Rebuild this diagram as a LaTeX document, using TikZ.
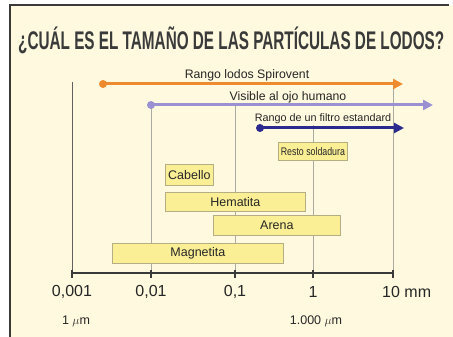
\documentclass[tikz,border=0pt]{standalone}
\usepackage{fontspec}
\setmainfont{Liberation Sans}
\newfontfamily\condfont[FakeStretch=0.8]{Liberation Sans}
\usetikzlibrary{arrows.meta}

\begin{document}
\begin{tikzpicture}[x=1pt,y=-1pt]
% Colors
\definecolor{paper}{HTML}{FFFADF}
\definecolor{framecolor}{HTML}{3A3A3A}
\definecolor{spirocolor}{HTML}{EE8B2E}
\definecolor{eyecolor}{HTML}{9A90D2}
\definecolor{filtercolor}{HTML}{2B2A8E}
\definecolor{boxfill}{HTML}{FBEF96}
\definecolor{boxdraw}{HTML}{B5AE84}
\definecolor{gridcolor}{HTML}{ABAAA2}
\colorlet{textcolor}{black!85}
% Styles
\tikzstyle{range line}=[line width=3pt,-{Triangle[length=10pt,width=10pt]}]
\tikzstyle{range dot}=[circle,inner sep=0pt,minimum size=8pt]
\tikzstyle{range text}=[inner sep=0pt,text=textcolor,font=\fontsize{12.3}{12.3}\selectfont]
\tikzstyle{particle}=[draw=boxdraw,fill=boxfill,line width=0.8pt,inner sep=0pt,
  anchor=north west,text=textcolor,font=\fontsize{12.5}{12.5}\selectfont]
\tikzstyle{scale text}=[inner sep=0pt,text=textcolor,font=\fontsize{16}{16}\selectfont]
\tikzstyle{unit text}=[inner sep=0pt,text=textcolor,font=\fontsize{12.5}{12.5}\selectfont]
% Local definitions
\def\axisy{273}
\newcommand{\particlebox}[6]{%
  \node[particle,minimum width={(#4-#2)*1pt},minimum height={(#5-#3)*1pt}] (#1) at (#2,#3) {#6};}
% The graphic
\fill[white] (0,0) rectangle (453,337);
\useasboundingbox (0,0) rectangle (453,337);
\fill[paper] (10,5) rectangle (453,337);
\draw[framecolor,line width=2.5pt] (10,337) -- (10,5) -- (449,5);
\node[anchor=base west,inner sep=0pt,text=framecolor] (title) at (18,49)
  {\resizebox{426pt}{\height}{\condfont\bfseries\fontsize{25.5}{25.5}\selectfont
   ¿CUÁL ES EL TAMAÑO DE LAS PARTÍCULAS DE LODOS?}};
% grid lines
\draw[framecolor!80,line width=0.8pt] (72,82) -- (72,\axisy);
\foreach \x/\top in {151/104,235/105,313/125,393/80}
  \draw[gridcolor,line width=0.8pt] (\x,\top) -- (\x,\axisy);
% axis
\draw[framecolor,line width=1.5pt] (72,\axisy) -- (393,\axisy);
\foreach \x in {72,151,235,313,393}
  \draw[framecolor,line width=1.5pt] (\x,270) -- (\x,278);
\foreach \x/\lab in {72/{0,001},151/{0,01},235/{0,1},313/1}
  \node[scale text] at (\x,292) {\lab};
\node[scale text,anchor=west] (tenmm) at (382,292) {10 mm};
\node[unit text] (onemu) at (76,321) {1 $\mu$m};
\node[unit text] (thousandmu) at (316,321) {1.000 $\mu$m};
% ranges
\node[range dot,fill=spirocolor] (spiro) at (103,84) {};
\coordinate (spiro end) at (403,84);
\draw[range line,spirocolor] (spiro.center) -- (spiro end);
\node[range text] (spiro label) at (247,75) {Rango lodos Spirovent};
\node[range dot,fill=eyecolor] (eye) at (151,105) {};
\coordinate (eye end) at (433,105);
\draw[range line,eyecolor] (eye.center) -- (eye end);
\node[range text] (eye label) at (288,97) {Visible al ojo humano};
\node[range dot,fill=filtercolor] (filter) at (260,128) {};
\coordinate (filter end) at (404,128);
\draw[range line,filtercolor] (filter.center) -- (filter end);
\node[range text,font=\fontsize{10.8}{10.8}\selectfont] (filter label) at (323,119)
  {Rango de un filtro estandard};
% particles
\particlebox{resto}{278}{142}{347}{160}{\condfont\fontsize{11}{11}\selectfont Resto soldadura}
\particlebox{cabello}{165}{164}{213}{185}{Cabello}
\particlebox{hematita}{165}{192}{305}{211}{Hematita}
\particlebox{arena}{213}{215}{340}{235}{Arena}
\particlebox{magnetita}{112}{243}{283}{263}{Magnetita}
\end{tikzpicture}
\end{document}
